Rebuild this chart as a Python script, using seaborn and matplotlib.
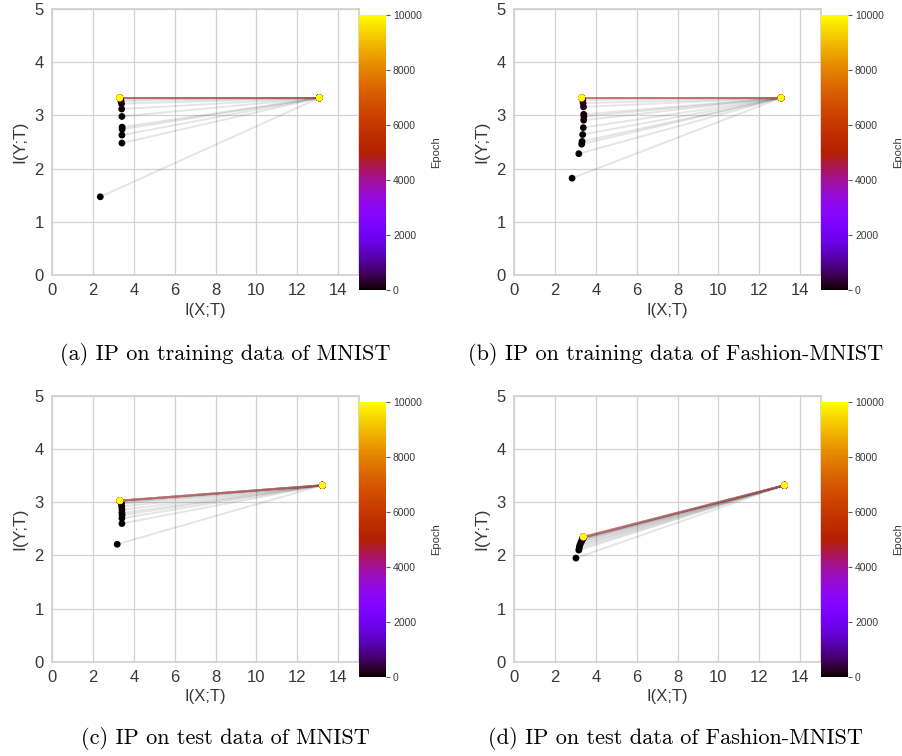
import matplotlib
matplotlib.use("Agg")
import matplotlib.pyplot as plt
from matplotlib.colors import Normalize
import numpy as np
import pandas as pd
import seaborn as sns

sns.set_theme(style="whitegrid")
plt.rcParams["font.family"] = ["Liberation Sans", "DejaVu Sans"]

# Training epochs at which the mutual information was estimated
EPOCHS = [0, 5, 10, 20, 30, 40, 60, 80, 100, 150, 200, 300, 500, 800, 1000,
          1500, 2000, 2500, 3000, 4000, 5000, 6000, 7000, 8000, 9000, 10000]

# First hidden layer: I(X;T), I(Y;T) per panel (stays put over training)
LAYER1_IXT = [13.08, 13.07, 13.23, 13.24]
LAYER1_IYT = [3.33, 3.33, 3.32, 3.32]

# Second layer trajectories, one value per epoch
MNIST_TRAIN_IXT = [2.35, 3.41, 3.41, 3.42, 3.42, 3.41, 3.40, 3.39, 3.37, 3.33, 3.31, 3.30, 3.30,
                   3.30, 3.30, 3.30, 3.30, 3.30, 3.30, 3.30, 3.30, 3.30, 3.30, 3.30, 3.30, 3.30]
MNIST_TRAIN_IYT = [1.47, 2.48, 2.63, 2.74, 2.78, 2.98, 3.12, 3.22, 3.27, 3.30, 3.32, 3.33, 3.33,
                   3.33, 3.33, 3.33, 3.33, 3.33, 3.33, 3.33, 3.33, 3.33, 3.33, 3.33, 3.33, 3.33]

FASHION_TRAIN_IXT = [2.83, 3.16, 3.30, 3.32, 3.35, 3.38, 3.40, 3.41, 3.40, 3.39, 3.37, 3.35, 3.31,
                     3.30, 3.30, 3.30, 3.30, 3.30, 3.30, 3.30, 3.30, 3.30, 3.30, 3.30, 3.30, 3.30]
FASHION_TRAIN_IYT = [1.82, 2.28, 2.46, 2.51, 2.64, 2.77, 2.91, 2.98, 3.02, 3.16, 3.23, 3.29, 3.32,
                     3.33, 3.33, 3.33, 3.33, 3.33, 3.33, 3.33, 3.33, 3.33, 3.33, 3.33, 3.33, 3.33]

MNIST_TEST_IXT = [3.18, 3.41, 3.41, 3.42, 3.41, 3.41, 3.40, 3.39, 3.37, 3.34, 3.32, 3.31, 3.31,
                  3.31, 3.31, 3.31, 3.31, 3.31, 3.31, 3.31, 3.31, 3.31, 3.31, 3.31, 3.31, 3.31]
MNIST_TEST_IYT = [2.21, 2.60, 2.70, 2.76, 2.80, 2.86, 2.92, 2.97, 2.99, 3.01, 3.02, 3.03, 3.03,
                  3.03, 3.03, 3.03, 3.03, 3.03, 3.03, 3.03, 3.03, 3.03, 3.03, 3.03, 3.03, 3.03]

FASHION_TEST_IXT = [3.02, 3.16, 3.18, 3.20, 3.23, 3.27, 3.30, 3.33, 3.35, 3.36, 3.37, 3.38, 3.38,
                    3.38, 3.38, 3.38, 3.38, 3.38, 3.38, 3.38, 3.38, 3.38, 3.38, 3.38, 3.38, 3.38]
FASHION_TEST_IYT = [1.95, 2.10, 2.14, 2.18, 2.21, 2.25, 2.27, 2.30, 2.31, 2.32, 2.33, 2.33, 2.34,
                    2.34, 2.34, 2.35, 2.35, 2.35, 2.35, 2.35, 2.35, 2.35, 2.35, 2.35, 2.35, 2.35]

CAPTIONS = ["(a) IP on training data of MNIST",
            "(b) IP on training data of Fashion-MNIST",
            "(c) IP on test data of MNIST",
            "(d) IP on test data of Fashion-MNIST"]

X_TICKS = [0, 2, 4, 6, 8, 10, 12, 14]
Y_TICKS = [0, 1, 2, 3, 4, 5]
CBAR_TICKS = [0, 2000, 4000, 6000, 8000, 10000]

second_layer = [(MNIST_TRAIN_IXT, MNIST_TRAIN_IYT),
                (FASHION_TRAIN_IXT, FASHION_TRAIN_IYT),
                (MNIST_TEST_IXT, MNIST_TEST_IYT),
                (FASHION_TEST_IXT, FASHION_TEST_IYT)]

W, H = 902, 756
fig = plt.figure(figsize=(W / 100, H / 100), dpi=100)


def frac(left, top, right, bottom):
    """Pixel box (top-left origin) -> figure fraction rectangle."""
    return [left / W, 1 - bottom / H, (right - left) / W, (bottom - top) / H]


# pixel boxes: (axes box, colorbar box, caption centre)
layout = [
    ((52.3, 9, 358.5, 275), (359, 15, 386, 290), (225, 354)),
    ((514.3, 9, 820.5, 275), (821, 15, 848, 290), (676, 354)),
    ((52.3, 396, 358.5, 661.7), (359, 402, 386, 677), (225, 739)),
    ((514.3, 396, 820.5, 661.7), (821, 402, 848, 677), (676, 739)),
]

norm = Normalize(0, 10000)
cmap = "gnuplot"
text_col = "0.22"

for k, ((ax_box, cb_box, cap), (ixt2, iyt2)) in enumerate(zip(layout, second_layer)):
    rows = []
    for e, x2, y2 in zip(EPOCHS, ixt2, iyt2):
        rows.append({"epoch": e, "layer": 1, "ixt": LAYER1_IXT[k], "iyt": LAYER1_IYT[k]})
        rows.append({"epoch": e, "layer": 2, "ixt": x2, "iyt": y2})
    df = pd.DataFrame(rows)

    ax = fig.add_axes(frac(*ax_box))
    sns.lineplot(data=df, x="ixt", y="iyt", hue="epoch", units="epoch",
                 estimator=None, sort=False, palette=cmap, hue_norm=norm,
                 alpha=0.1, linewidth=1.4, legend=False, ax=ax, zorder=1)
    sns.scatterplot(data=df.sort_values("epoch", kind="stable"), x="ixt", y="iyt",
                    hue="epoch", palette=cmap, hue_norm=norm, s=24, linewidth=0,
                    legend=False, ax=ax, zorder=3)

    ax.set_xlim(0, 15)
    ax.set_ylim(0, 5)
    ax.set_xticks(X_TICKS)
    ax.set_yticks(Y_TICKS)
    ax.grid(True, color="0.82", linewidth=0.9)
    for sp in ax.spines.values():
        sp.set_color("0.82")
    ax.tick_params(labelsize=12, labelcolor=text_col, length=0, pad=6)
    ax.set_xlabel("I(X;T)", fontsize=12, color=text_col, labelpad=3)
    ax.set_ylabel("I(Y;T)", fontsize=12.5, color=text_col, labelpad=5)

    cax = fig.add_axes(frac(*cb_box))
    sm = plt.cm.ScalarMappable(norm=norm, cmap=cmap)
    cb = fig.colorbar(sm, cax=cax)
    cb.set_ticks(CBAR_TICKS)
    cb.outline.set_visible(False)
    cax.grid(False)
    cax.tick_params(labelsize=7.5, labelcolor=text_col, length=3, width=0.8,
                    color="0.35", pad=2, right=True)
    cb.set_label("Epoch", fontsize=8, color=text_col, labelpad=6.5)

    fig.text(cap[0] / W, 1 - cap[1] / H, CAPTIONS[k], ha="center", va="center",
             family="cmr10", fontsize=16, color="black")

fig.savefig("out.png", dpi=100)
